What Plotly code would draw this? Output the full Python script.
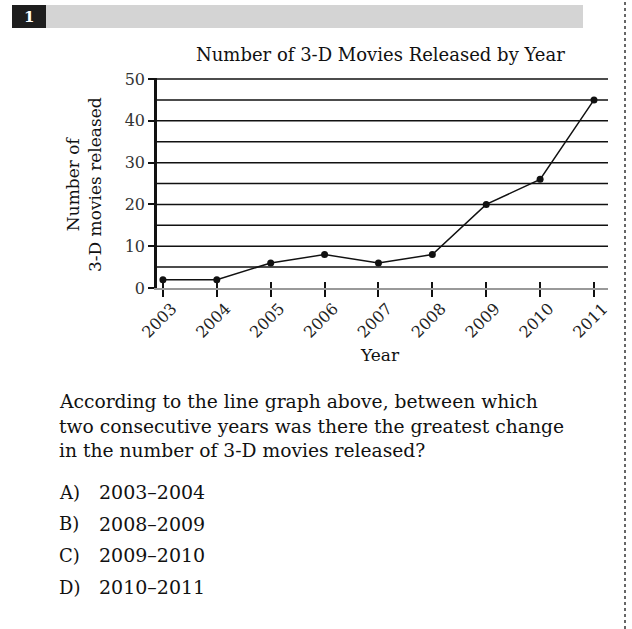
import plotly.graph_objects as go

years = [2003, 2004, 2005, 2006, 2007, 2008, 2009, 2010, 2011]
movies = [2, 2, 6, 8, 6, 8, 20, 26, 45]
y_ticks = [0, 10, 20, 30, 40, 50]
title = "Number of 3-D Movies Released by Year"
y_title = "Number of<br>3-D movies released"
x_title = "Year"
question = ["According to the line graph above, between which",
            "two consecutive years was there the greatest change",
            "in the number of 3-D movies released?"]
options = [("A)", "2003\u20132004"), ("B)", "2008\u20132009"),
           ("C)", "2009\u20132010"), ("D)", "2010\u20132011")]

W, H = 632, 629
L, R, T, B = 157, 24, 78, 341
PW, PH = W - L - R, H - T - B

def px(x):
    return (x - L) / PW

def py(y):
    return (H - B - y) / PH

FONT = "DejaVu Serif"
fig = go.Figure()
fig.add_trace(go.Scatter(x=years, y=movies, mode="lines+markers",
                         line=dict(color="#111", width=1.5),
                         marker=dict(color="#111", size=7),
                         showlegend=False, hoverinfo="skip"))
fig.add_trace(go.Scatter(x=years, y=movies, xaxis="x2", mode="markers",
                         marker=dict(opacity=0), showlegend=False, hoverinfo="skip"))

xr = [2002.89, 2011.26]
fig.update_layout(
    width=W, height=H, margin=dict(l=L, r=R, t=T, b=B),
    paper_bgcolor="white", plot_bgcolor="white",
    xaxis=dict(range=xr, tickmode="array", tickvals=years,
               ticktext=[str(y) for y in years], tickangle=-45,
               ticks="outside", ticklen=7, tickwidth=1.5, tickcolor="#111",
               showline=True, linecolor="#999", linewidth=2,
               showgrid=False, zeroline=False,
               ticklabelstandoff=-4, ticklabelshift=9,
               tickfont=dict(family=FONT, size=16, color="#222")),
    xaxis2=dict(range=xr, overlaying="x", anchor="y", side="bottom",
                tickmode="array", tickvals=years, showticklabels=False,
                ticks="inside", ticklen=6, tickwidth=1.5, tickcolor="#111",
                showline=False, showgrid=False, zeroline=False),
    yaxis=dict(range=[0, 50.25], tickmode="array", tickvals=y_ticks,
               ticks="outside", ticklen=6, tickwidth=1.5, tickcolor="#111",
               showline=True, linecolor="#111", linewidth=2.5,
               showgrid=False, zeroline=False,
               tickfont=dict(family=FONT, size=16, color="#333")),
)

shapes = []
for v in range(5, 51, 5):
    shapes.append(dict(type="line", xref="paper", yref="y", x0=0, x1=1, y0=v, y1=v,
                       line=dict(color="#111", width=1.5), layer="below"))
shapes.append(dict(type="rect", xref="paper", yref="paper", x0=px(46), x1=px(583),
                   y0=py(28), y1=py(5), fillcolor="#d4d4d4", line=dict(width=0)))
shapes.append(dict(type="rect", xref="paper", yref="paper", x0=px(12), x1=px(46),
                   y0=py(28), y1=py(5), fillcolor="#1e1e1e", line=dict(width=0)))
shapes.append(dict(type="line", xref="paper", yref="paper", x0=px(625), x1=px(625),
                   y0=py(629), y1=py(0), line=dict(color="#666", width=2, dash="dot")))
fig.update_layout(shapes=shapes)

def note(text, x, y, size, xanchor="center", angle=0, color="#111", bold=False):
    return dict(text=("<b>%s</b>" % text) if bold else text, x=px(x), y=py(y),
                xref="paper", yref="paper", xanchor=xanchor, yanchor="middle",
                showarrow=False, textangle=angle,
                font=dict(family=FONT, size=size, color=color))

ann = [note("1", 29, 17, 15, color="white", bold=True),
       note(title, 380, 55, 18),
       note(y_title, 84, 185, 17, angle=-90),
       note(x_title, 380, 355, 17)]
for i, line in enumerate(question):
    ann.append(note(line, 57, 402 + 24 * i, 18.7, xanchor="left"))
for i, (lab, val) in enumerate(options):
    ann.append(note(lab, 57, 492 + 31.7 * i, 18, xanchor="left"))
    ann.append(note(val, 97, 492 + 31.7 * i, 19, xanchor="left"))
fig.update_layout(annotations=ann)

fig.write_html("out.html", config={"displayModeBar": False},
               post_script="document.body.style.margin='0';")
